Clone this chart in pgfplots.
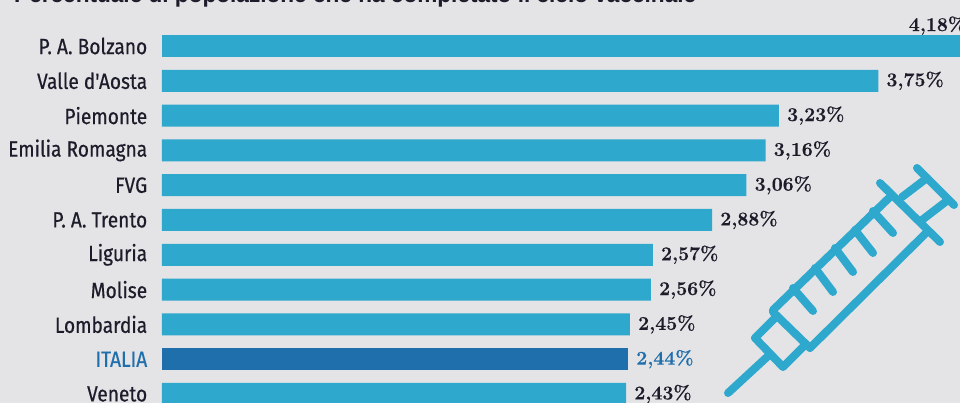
\documentclass[border=0pt]{standalone}
\usepackage{fontspec}
\usepackage{pgfplots}
\pgfplotsset{compat=1.18}
\setmainfont{Latin Modern Roman}[BoldFeatures={FakeBold=0.4}]
\newfontfamily\lab[FakeStretch=0.87,FakeBold=0.5]{Fira Sans}
\newfontfamily\titlefont{Liberation Sans}
\definecolor{bg}{HTML}{E4E4E6}
\definecolor{barblue}{HTML}{2FA8CE}
\definecolor{italia}{HTML}{1F6FAD}
\definecolor{ink}{HTML}{1C1C2A}
\pgfplotstableread{
y val
0 4.18
}\bolzano
\pgfplotstableread{
y val
1 3.75
2 3.23
3 3.16
4 3.06
5 2.88
6 2.57
7 2.56
8 2.45
10 2.43
}\regioni
\pgfplotstableread{
y val
9 2.44
}\italiadata
\begin{document}
\begin{tikzpicture}
\clip (-162pt,0pt) rectangle (798pt,403pt);
\fill[bg] (-162pt,0pt) rectangle (798pt,403pt);
\begin{axis}[
    at={(0pt,0pt)}, anchor=south west,
    scale only axis,
    width=798pt, height=403pt,
    xbar, bar shift=0pt, bar width=22pt,
    y dir=reverse,
    xmin=0, xmax=4.178,
    ymin=-1.322, ymax=10.259,
    xtick=\empty,
    ytick={0,1,2,3,4,5,6,7,8,9,10},
    yticklabels={P. A. Bolzano,Valle d'Aosta,Piemonte,Emilia Romagna,FVG,P. A. Trento,Liguria,Molise,Lombardia,\textcolor{italia}{ITALIA},Veneto},
    yticklabel style={font=\lab\fontsize{22}{24}\selectfont, text=ink, anchor=east, xshift=-7pt},
    axis line style={draw=none},
    tick style={draw=none},
    clip=false,
    point meta=x,
    /pgf/number format/assume math mode=true,
    /pgf/number format/.cd, fixed, fixed zerofill, precision=2, use comma,
    /pgfplots/.cd,
    nodes near coords={\pgfmathprintnumber{\pgfplotspointmeta}\%},
    nodes near coords style={font=\bfseries\fontsize{19.5}{22}\selectfont, text=ink, inner sep=0pt, anchor=west, xshift=8pt},
]
\addplot[draw=none, fill=barblue, nodes near coords style={anchor=south east, xshift=-2pt, yshift=11pt}] table[x=val, y=y] {\bolzano};
\addplot[draw=none, fill=barblue] table[x=val, y=y] {\regioni};
\addplot[draw=none, fill=italia, nodes near coords style={text=italia}] table[x=val, y=y] {\italiadata};
\end{axis}
% title, cut by the top edge as in the original
\node[anchor=base west, inner sep=0pt, text=ink, font=\titlefont\bfseries\fontsize{22.6}{24}\selectfont] at (-148pt,400pt) {Percentuale di popolazione che ha completato il ciclo vaccinale};
% syringe, in reference pixels
\begin{scope}[shift={(-162pt,403pt)}, x=1pt, y=-1pt, draw=barblue, line width=8pt, line cap=round, line join=round]
\draw (728,393) -- (767,357);
\draw (755,338) -- (783,367) -- (803,347);
\draw (755,338) -- (775,318);
\draw (773,312) -- (810,348);
\draw (773,310) -- (890,197);
\draw (810,348) -- (927,232);
\draw (880,183) -- (940,242);
\draw (902,197) -- (927,178);
\draw (922,220) -- (948,200);
\draw (917,168) -- (954,205);
\draw (793,288) -- (813,311);
\draw (815,268) -- (833,292);
\draw (835,248) -- (853,272);
\draw (855,230) -- (873,253);
\draw (873,211) -- (893,233);
\end{scope}
\end{tikzpicture}
\end{document}
